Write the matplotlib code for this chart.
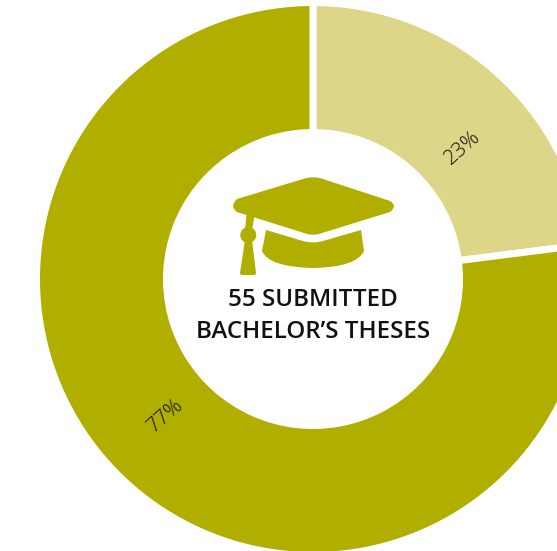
import numpy as np
import matplotlib
matplotlib.use('Agg')
import matplotlib.pyplot as plt
from matplotlib.patches import PathPatch, Circle
from matplotlib.path import Path

W, H = 557, 551

shares = [23, 77]
colors = ['#DDD688', '#B0AF00']
title_lines = ['55 SUBMITTED', 'BACHELOR’S THESES']

OLIVE = '#B0AF00'
INK = '#111111'
GAP = 7  # white line between the wedges, px

plt.rcParams['font.family'] = ['Open Sans', 'DejaVu Sans']

fig = plt.figure(figsize=(W / 100, H / 100), dpi=100)
ax = fig.add_axes([0, 0, 1, 1])


def flip(p):
    # icon points are written with y going down
    return (p[0], H - p[1])


def shape(steps):
    verts, codes = [], []
    for code, *pts in steps:
        for p in pts:
            verts.append(flip(p))
            codes.append(code)
    verts.append(verts[0])
    codes.append(Path.CLOSEPOLY)
    return Path(verts, codes)


M, L, Q = Path.MOVETO, Path.LINETO, Path.CURVE3

# ring
cx, cy = 313, H - 279
outer = 273 + GAP / 2
hole = 150 - GAP / 2
wedges, _, pcts = ax.pie(
    shares,
    colors=colors,
    startangle=90,
    counterclock=False,
    center=(cx, cy),
    radius=outer,
    autopct='%d%%',
    frame=False,
    wedgeprops=dict(width=outer - hole, edgecolor='white', linewidth=GAP * 0.72),
    textprops=dict(fontsize=15, color=INK, fontweight=300),
)
# labels sit roughly opposite each other, tilted with the first wedge
tilt = shares[0] * 3.6 / 2
for t, turn in zip(pcts, (0, 181.2)):
    a = np.radians(tilt + turn)
    t.set_position((cx + 200 * np.cos(a), cy + 200 * np.sin(a) - 1))
    t.set_rotation(tilt)
    t.set_rotation_mode('anchor')
    t.set_ha('center')
    t.set_va('center')

ax.set_xlim(0, W)
ax.set_ylim(0, H)
ax.set_aspect('equal')
ax.axis('off')

# graduation cap
board = shape([
    (M, (237, 199)),
    (L, (303, 179)),
    (Q, (313, 175.5), (323, 179)),
    (L, (390, 201)),
    (Q, (398, 206), (390, 212)),
    (L, (322, 233)),
    (Q, (313, 236.5), (304, 233)),
    (L, (237, 212)),
    (Q, (229, 206), (237, 199)),
])
crown = shape([
    (M, (266, 230)),
    (L, (303, 241)),
    (Q, (313, 244), (323, 241)),
    (L, (361, 230)),
    (L, (364, 251)),
    (Q, (357, 267), (313, 268)),
    (Q, (269, 267), (262, 251)),
])
cord = shape([
    (M, (246.5, 214)),
    (L, (254.5, 216)),
    (L, (252, 230)),
    (L, (245, 230)),
])
tassel = shape([
    (M, (245, 240)),
    (L, (252, 240)),
    (L, (256, 273)),
    (Q, (256, 275), (254, 275)),
    (L, (242, 275)),
    (Q, (240, 275), (240, 273)),
])
for p in (board, crown, cord, tassel):
    ax.add_patch(PathPatch(p, facecolor=OLIVE, edgecolor='none'))
ax.add_patch(Circle(flip((248.3, 235)), 8, facecolor=OLIVE, edgecolor='none'))

for line, y in zip(title_lines, (299.5, 331.5)):
    ax.text(cx, H - y, line, ha='center', va='center', fontsize=17.4,
            fontweight=600, color=INK)

fig.savefig('out.png', dpi=100, facecolor='white')
